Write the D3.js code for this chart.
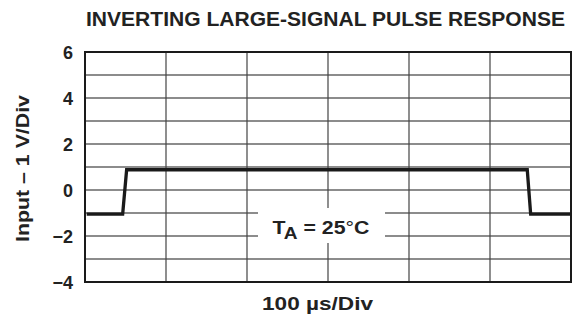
<!DOCTYPE html>
<html>
<head>
<meta charset="utf-8">
<script src="https://cdn.jsdelivr.net/npm/d3@7"></script>
<style>
  html, body { margin: 0; padding: 0; background: #fff; }
  svg { display: block; font-family: "Liberation Sans", Arial, Helvetica, sans-serif; font-weight: bold; }
</style>
</head>
<body>
<svg id="chart" width="572" height="317"></svg>
<script>
// ---- data ----
const title = "INVERTING LARGE-SIGNAL PULSE RESPONSE";
const yLabel = "Input \u2013 1 V/Div";
const xLabel = "100 \u00b5s/Div";
const yTicks = [6, 4, 2, 0, -2, -4];
const yGridValues = [6, 5, 4, 3, 2, 1, 0, -1, -2, -3, -4];
const xGridValues = [0, 100, 200, 300, 400, 500, 600]; // µs
const timeUs = [2.1, 46.5, 51.4, 546, 550.2, 598.8];
const inputV = [-1.05, -1.05, 0.88, 0.88, -1.05, -1.05];

// ---- layout ----
const svg = d3.select("#chart");
const pLeft = 85, pRight = 571, pTop = 52, pBottom = 282;
const x = d3.scaleLinear().domain([0, 600]).range([pLeft, pRight]);
const y = d3.scaleLinear().domain([-4, 6]).range([pBottom, pTop]);

// grid
const g = svg.append("g");
g.selectAll("line.h").data(yGridValues).join("line")
  .attr("x1", pLeft).attr("x2", pRight)
  .attr("y1", d => y(d)).attr("y2", d => y(d))
  .attr("stroke", "#666").attr("stroke-width", 1.3);
g.selectAll("line.v").data(xGridValues).join("line")
  .attr("y1", pTop).attr("y2", pBottom)
  .attr("x1", d => x(d)).attr("x2", d => x(d))
  .attr("stroke", "#444").attr("stroke-width", 1.2);

// TA label box
const boxG = svg.append("g");
boxG.append("rect").attr("x", 258).attr("y", 208).attr("width", 127).attr("height", 35).attr("fill", "#fff");
const ta = boxG.append("text").attr("x", 272.5).attr("y", 233.5).attr("font-size", 19).attr("fill", "#222")
  .attr("textLength", 97).attr("lengthAdjust", "spacingAndGlyphs");
ta.append("tspan").text("T");
ta.append("tspan").attr("font-size", 17).attr("dy", 5.5).attr("dx", -1.5).text("A");
ta.append("tspan").attr("dy", -5.5).text(" = 25");
ta.append("tspan").attr("font-weight", "normal").text("\u00b0");
ta.append("tspan").text("C");

// border
svg.append("rect").attr("x", pLeft).attr("y", pTop).attr("width", pRight - pLeft).attr("height", pBottom - pTop)
  .attr("fill", "none").attr("stroke", "#1a1a1a").attr("stroke-width", 2);

// waveform
const pts = timeUs.map((t, i) => [t, inputV[i]]);
svg.append("path").datum(pts)
  .attr("d", d3.line().x(d => x(d[0])).y(d => y(d[1])))
  .attr("fill", "none").attr("stroke", "#1a1a1a").attr("stroke-width", 3.3)
  .attr("stroke-linejoin", "miter");

// y tick labels
const yAxis = d3.axisLeft(y).tickValues(yTicks).tickSize(0).tickPadding(0)
  .tickFormat(d => d < 0 ? "\u2212" + Math.abs(d) : String(d));
const ya = svg.append("g").attr("transform", `translate(73,0)`).call(yAxis);
ya.select(".domain").remove();
ya.selectAll("text").attr("font-size", 18).attr("font-family", "Liberation Sans, Arial, sans-serif")
  .attr("font-weight", "bold").attr("fill", "#222").attr("dy", "0.36em");

// title
svg.append("text").attr("x", 86).attr("y", 26).attr("font-size", 20.5).attr("fill", "#222")
  .attr("textLength", 479).attr("lengthAdjust", "spacingAndGlyphs").text(title);

// x label
svg.append("text").attr("x", 262).attr("y", 310).attr("font-size", 18).attr("fill", "#222")
  .attr("textLength", 111).attr("lengthAdjust", "spacingAndGlyphs").text(xLabel);

// y label
svg.append("text").attr("transform", `translate(29,${(pTop + pBottom) / 2 + 1.5}) rotate(-90)`)
  .attr("text-anchor", "middle").attr("font-size", 19).attr("fill", "#222")
  .attr("textLength", 147).attr("lengthAdjust", "spacingAndGlyphs")
  .text(yLabel);
</script>
</body>
</html>
